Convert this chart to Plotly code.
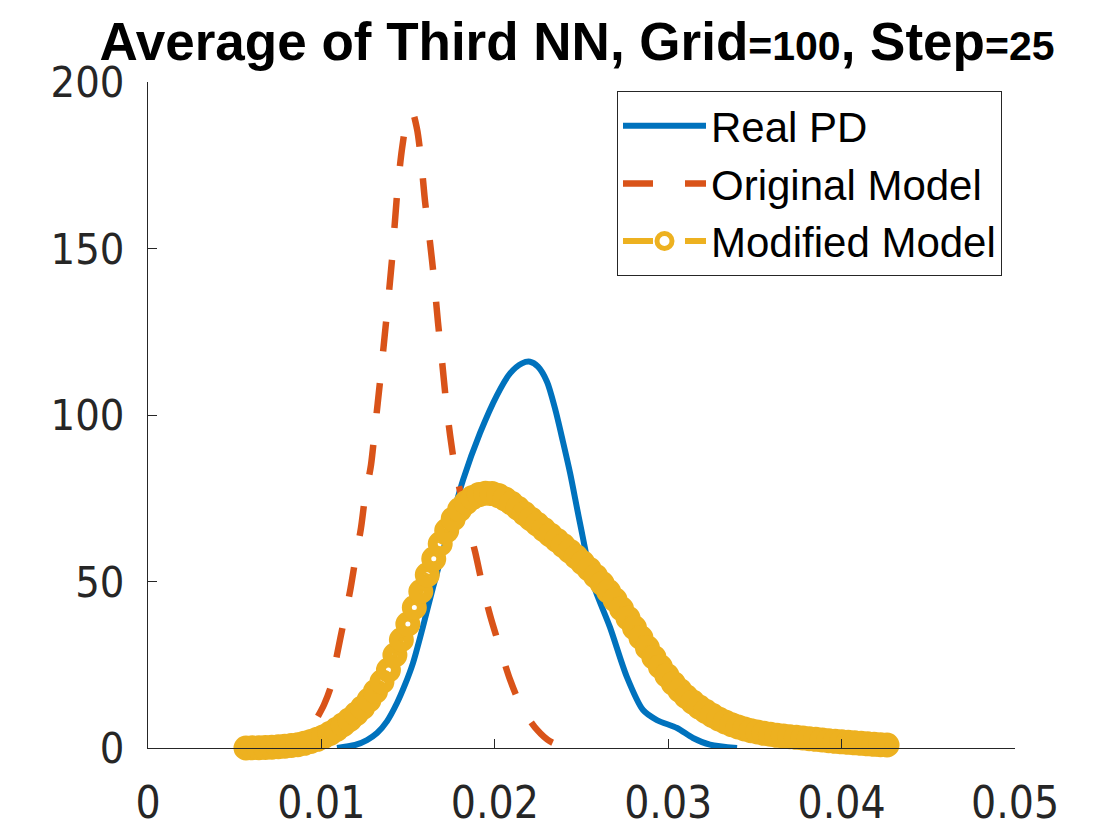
import numpy as np
import plotly.graph_objects as go

# ---------------- data ----------------
real_x = [0.01090, 0.01194, 0.01263, 0.01321, 0.01378, 0.01436, 0.01482, 0.01528, 0.01586,
          0.01644, 0.01724, 0.01817, 0.01915, 0.02013, 0.02088, 0.02157, 0.02203,
          0.02249, 0.02301, 0.02347, 0.02393, 0.02434, 0.02491, 0.02566, 0.02664,
          0.02762, 0.02855, 0.02935, 0.03051, 0.03143, 0.03241, 0.03397]
real_y = [0.0, 0.9, 2.4, 4.5, 8.0, 13.5, 19.0, 25.5, 36.5,
          48.3, 63.4, 80.5, 94.6, 106.0, 112.5, 115.5, 116.0,
          114.5, 110.0, 102.0, 92.0, 82.6, 67.6, 49.5, 36.3,
          21.3, 11.4, 8.4, 6.0, 3.0, 1.0, 0.0]

orig_x = [0.00980, 0.01015, 0.01055, 0.01090, 0.01125, 0.01165, 0.01194, 0.01228,
          0.01251, 0.01286, 0.01309, 0.01338, 0.01373, 0.01407, 0.01436, 0.01465,
          0.01494, 0.01523, 0.01551, 0.01574, 0.01598, 0.01626, 0.01649, 0.01672,
          0.01696, 0.01719, 0.01742, 0.01771, 0.01805, 0.01840, 0.01886, 0.01926,
          0.01972, 0.02030, 0.02088, 0.02157, 0.02243, 0.02318, 0.02416]
orig_y = [9.5, 13.0, 18.5, 28.0, 37.0, 47.0, 56.0, 66.0,
          75.0, 85.0, 96.0, 110.0, 128.0, 146.5, 166.0, 180.0,
          188.5, 191.0, 186.0, 177.0, 164.0, 152.0, 141.0, 128.0,
          116.0, 104.0, 94.0, 84.0, 76.0, 68.0, 59.0, 49.5,
          40.0, 30.0, 20.5, 12.0, 5.5, 2.0, 0.0]

mod_x_start = 0.00565
mod_x_end = 0.04262
mod_y = [0.0, 0.05, 0.1, 0.15, 0.25, 0.4, 0.55, 0.75, 1.0, 1.4,
         1.95, 2.6, 3.4, 4.4, 5.6, 7.0, 8.5, 10.2, 12.1, 14.4,
         17.0, 19.9, 23.4, 27.9, 32.5, 37.2, 42.2, 47.0, 52.0, 56.8,
         61.3, 65.3, 68.8, 71.6, 73.7, 75.2, 76.1, 76.5, 76.4, 75.8,
         74.8, 73.5, 72.0, 70.4, 68.8, 67.2, 65.6, 64.0, 62.4, 60.8,
         59.1, 57.4, 55.6, 53.7, 51.6, 49.4, 47.0, 44.5, 41.8, 39.0,
         36.1, 33.1, 30.1, 27.2, 24.4, 21.8, 19.4, 17.3, 15.4, 13.8,
         12.3, 11.0, 9.8, 8.7, 7.8, 7.0, 6.3, 5.7, 5.2, 4.8,
         4.4, 4.1, 3.8, 3.6, 3.4, 3.2, 3.0, 2.8, 2.6, 2.4,
         2.2, 2.0, 1.85, 1.7, 1.55, 1.4, 1.25, 1.1, 1.0, 0.9]
mod_x = np.linspace(mod_x_start, mod_x_end, len(mod_y))

x_ticks = [0, 0.01, 0.02, 0.03, 0.04, 0.05]
x_tick_labels = ["0", "0.01", "0.02", "0.03", "0.04", "0.05"]
y_ticks = [0, 50, 100, 150, 200]
y_tick_labels = ["0", "50", "100", "150", "200"]

names = ["Real PD", "Original Model", "Modified Model"]
title_text = ("Average of Third NN, Grid<span style='font-size:41px'>=100</span>, "
              "Step<span style='font-size:41px'>=25</span>")

# ---------------- style ----------------
BLUE = "#0072BD"
ORANGE = "#D95319"
YELLOW = "#EDB120"
AXIS = "#262626"
FONT = "Liberation Sans"
NARROW = "Liberation Sans Narrow, DejaVu Sans Condensed, Arial Narrow, sans-serif"

fig = go.Figure()
fig.add_trace(go.Scatter(
    x=real_x, y=real_y, name=names[0], mode="lines",
    line=dict(color=BLUE, width=6, shape="spline", smoothing=0.8)))
fig.add_trace(go.Scatter(
    x=orig_x, y=orig_y, name=names[1], mode="lines",
    line=dict(color=ORANGE, width=6.5, dash="30px,32px", shape="spline", smoothing=0.8)))
fig.add_trace(go.Scatter(
    x=mod_x, y=mod_y, name=names[2], mode="lines+markers",
    line=dict(color=YELLOW, width=6, dash="30px,32px"),
    marker=dict(symbol="circle-open", size=15, color=YELLOW,
                line=dict(color=YELLOW, width=10)),
    cliponaxis=False))

fig.update_layout(
    width=1120, height=840, autosize=False,
    margin=dict(l=148, r=105, t=82, b=92, pad=0, autoexpand=False),
    paper_bgcolor="white", plot_bgcolor="white",
    title=dict(text=title_text, x=577 / 1120, xref="container", xanchor="center",
               y=1 - 41 / 840, yref="container", yanchor="middle",
               font=dict(family=FONT, size=53, color="black", weight="bold")),
    legend=dict(x=(617 - 148) / 867, y=(748 - 91) / 666, xanchor="left", yanchor="top",
                bgcolor="white", bordercolor=AXIS, borderwidth=1,
                font=dict(family=FONT, size=42, color="black"),
                itemwidth=83, tracegroupgap=0),
    showlegend=True,
)
fig.update_xaxes(
    range=[0, 0.05], tickvals=x_ticks, ticktext=x_tick_labels, automargin=False,
    showgrid=False, zeroline=False, showline=True, linecolor=AXIS, linewidth=1,
    ticks="inside", ticklen=9, tickcolor=AXIS, tickwidth=1,
    ticklabelstandoff=16,
    tickfont=dict(family=NARROW, size=44, color=AXIS))
fig.update_yaxes(
    range=[0, 200], tickvals=y_ticks, ticktext=y_tick_labels, automargin=False,
    showgrid=False, zeroline=False, showline=True, linecolor=AXIS, linewidth=1,
    ticks="inside", ticklen=9, tickcolor=AXIS, tickwidth=1,
    ticklabelstandoff=14,
    tickfont=dict(family=NARROW, size=43, color=AXIS))

fig.write_html("out.html", config={"displayModeBar": False},
               post_script="document.body.style.margin='0';document.body.style.overflow='hidden';")
